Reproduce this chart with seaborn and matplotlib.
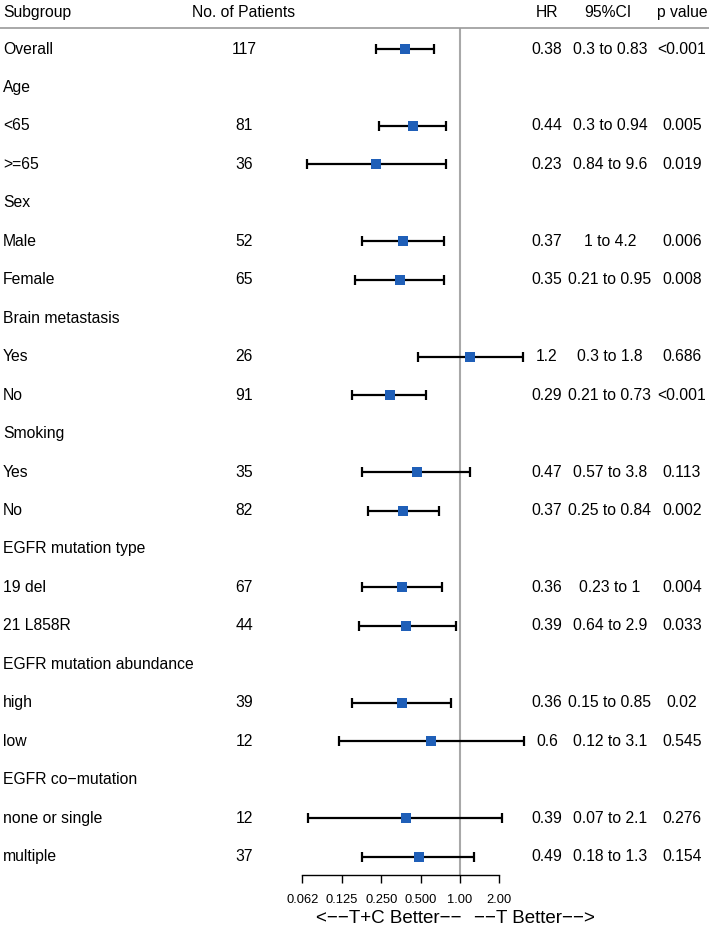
import numpy as np
import pandas as pd
import matplotlib
matplotlib.use("Agg")
import matplotlib.pyplot as plt
import matplotlib.transforms as mtransforms
from matplotlib.lines import Line2D
import seaborn as sns

# ---------- data ----------
subgroups = ["Overall", "Age", "<65", ">=65", "Sex", "Male", "Female",
             "Brain metastasis", "Yes", "No", "Smoking", "Yes", "No",
             "EGFR mutation type", "19 del", "21 L858R",
             "EGFR mutation abundance", "high", "low",
             "EGFR co\u2212mutation", "none or single", "multiple"]
patients = ["117", "", "81", "36", "", "52", "65", "", "26", "91", "", "35", "82",
            "", "67", "44", "", "39", "12", "", "12", "37"]
hr_text = ["0.38", "", "0.44", "0.23", "", "0.37", "0.35", "", "1.2", "0.29", "",
           "0.47", "0.37", "", "0.36", "0.39", "", "0.36", "0.6", "", "0.39", "0.49"]
ci_text = ["0.3 to 0.83", "", "0.3 to 0.94", "0.84 to 9.6", "", "1 to 4.2",
           "0.21 to 0.95", "", "0.3 to 1.8", "0.21 to 0.73", "", "0.57 to 3.8",
           "0.25 to 0.84", "", "0.23 to 1", "0.64 to 2.9", "", "0.15 to 0.85",
           "0.12 to 3.1", "", "0.07 to 2.1", "0.18 to 1.3"]
p_text = ["<0.001", "", "0.005", "0.019", "", "0.006", "0.008", "", "0.686",
          "<0.001", "", "0.113", "0.002", "", "0.004", "0.033", "", "0.02",
          "0.545", "", "0.276", "0.154"]

# values drawn on the plot (header rows have none)
hr = [0.38, np.nan, 0.44, 0.23, np.nan, 0.37, 0.35, np.nan, 1.2, 0.29, np.nan,
      0.47, 0.37, np.nan, 0.36, 0.39, np.nan, 0.36, 0.6, np.nan, 0.39, 0.49]
lower = [0.23, np.nan, 0.24, 0.068, np.nan, 0.178, 0.159, np.nan, 0.478, 0.149, np.nan,
         0.178, 0.198, np.nan, 0.178, 0.168, np.nan, 0.149, 0.119, np.nan, 0.069, 0.178]
upper = [0.636, np.nan, 0.777, 0.786, np.nan, 0.759, 0.759, np.nan, 3.01, 0.55, np.nan,
         1.2, 0.691, np.nan, 0.733, 0.927, np.nan, 0.849, 3.1, np.nan, 2.11, 1.29]

tick_vals = [0.0625, 0.125, 0.25, 0.5, 1, 2]
tick_labels = ["0.062", "0.125", "0.250", "0.500", "1.00", "2.00"]

# ---------- figure ----------
sns.set_theme(style="white")
plt.rcParams['font.family'] = ['Liberation Sans', 'DejaVu Sans']
plt.rcParams['text.color'] = 'black'

W, H = 709, 930
fig = plt.figure(figsize=(W / 100, H / 100), dpi=100)

ROW0, STEP = 49, 38.46          # pixel y of first row, row spacing
AX_TOP, AX_BOT = 28, 875        # header line / x axis line (pixels)
X_L, X_R = 290, 540             # plot panel horizontal extent (pixels)

ax = fig.add_axes([X_L / W, 1 - AX_BOT / H, (X_R - X_L) / W, (AX_BOT - AX_TOP) / H])
ax.set_facecolor("none")

df = pd.DataFrame({"row": np.arange(len(subgroups)), "hr": hr,
                   "lo": lower, "hi": upper}).dropna()

ax.axvline(1, color="#a8a8a8", lw=1.5, zorder=1)
ax.errorbar(df["hr"], df["row"],
            xerr=[df["hr"] - df["lo"], df["hi"] - df["hr"]],
            fmt="none", ecolor="black", elinewidth=1.6, capsize=3.4, capthick=1.6, zorder=2)
sns.scatterplot(data=df, x="hr", y="row", marker="s", s=44, color="#1f5fb8",
                edgecolor="#1f5fb8", linewidth=0, zorder=3, ax=ax, legend=False)

ax.set_xscale("log", base=2)
px_per_doubling = 39.4
ax.set_xlim(2 ** ((X_L - 460) / px_per_doubling), 2 ** ((X_R - 460) / px_per_doubling))
ax.set_ylim((AX_BOT - ROW0) / STEP, (AX_TOP - ROW0) / STEP)

ax.set_xticks(tick_vals)
ax.set_xticklabels(tick_labels)
ax.xaxis.set_minor_locator(matplotlib.ticker.NullLocator())
ax.tick_params(axis="x", bottom=True, length=6, width=1, color="black",
               labelsize=9.3, pad=8, labelcolor="black")
ax.set_yticks([])
ax.set_xlabel("")
ax.set_ylabel("")
for s in ["top", "left", "right"]:
    ax.spines[s].set_visible(False)
ax.spines["bottom"].set_bounds(tick_vals[0], tick_vals[-1])
ax.spines["bottom"].set_color("black")
ax.spines["bottom"].set_linewidth(1)

# ---------- text columns ----------
tr = mtransforms.blended_transform_factory(fig.transFigure, ax.transData)
FS = 11.3
for i in range(len(subgroups)):
    ax.text(3 / W, i, subgroups[i], transform=tr, ha="left", va="center", fontsize=FS)
    ax.text(244 / W, i, patients[i], transform=tr, ha="center", va="center", fontsize=FS)
    ax.text(547 / W, i, hr_text[i], transform=tr, ha="center", va="center", fontsize=FS)
    ax.text(610 / W, i, ci_text[i], transform=tr, ha="center", va="center", fontsize=FS)
    ax.text(682 / W, i, p_text[i], transform=tr, ha="center", va="center", fontsize=FS)

hy = 1 - 12.5 / H
fig.text(3 / W, hy, "Subgroup", ha="left", va="center", fontsize=FS)
fig.text(244 / W, hy, "No. of Patients", ha="center", va="center", fontsize=FS)
fig.text(547 / W, hy, "HR", ha="center", va="center", fontsize=FS)
fig.text(608 / W, hy, "95%CI", ha="center", va="center", fontsize=FS)
fig.text(682 / W, hy, "p value", ha="center", va="center", fontsize=FS)

fig.add_artist(Line2D([0, 1], [1 - AX_TOP / H, 1 - AX_TOP / H],
                      transform=fig.transFigure, color="#9a9a9a", lw=1.2))

by = 1 - 918 / H
fig.text(462 / W, by, "<\u2212\u2212T+C Better\u2212\u2212", ha="right", va="center", fontsize=13.5)
fig.text(474 / W, by, "\u2212\u2212T Better\u2212\u2212>", ha="left", va="center", fontsize=13.5)

fig.savefig("out.png", dpi=100)
